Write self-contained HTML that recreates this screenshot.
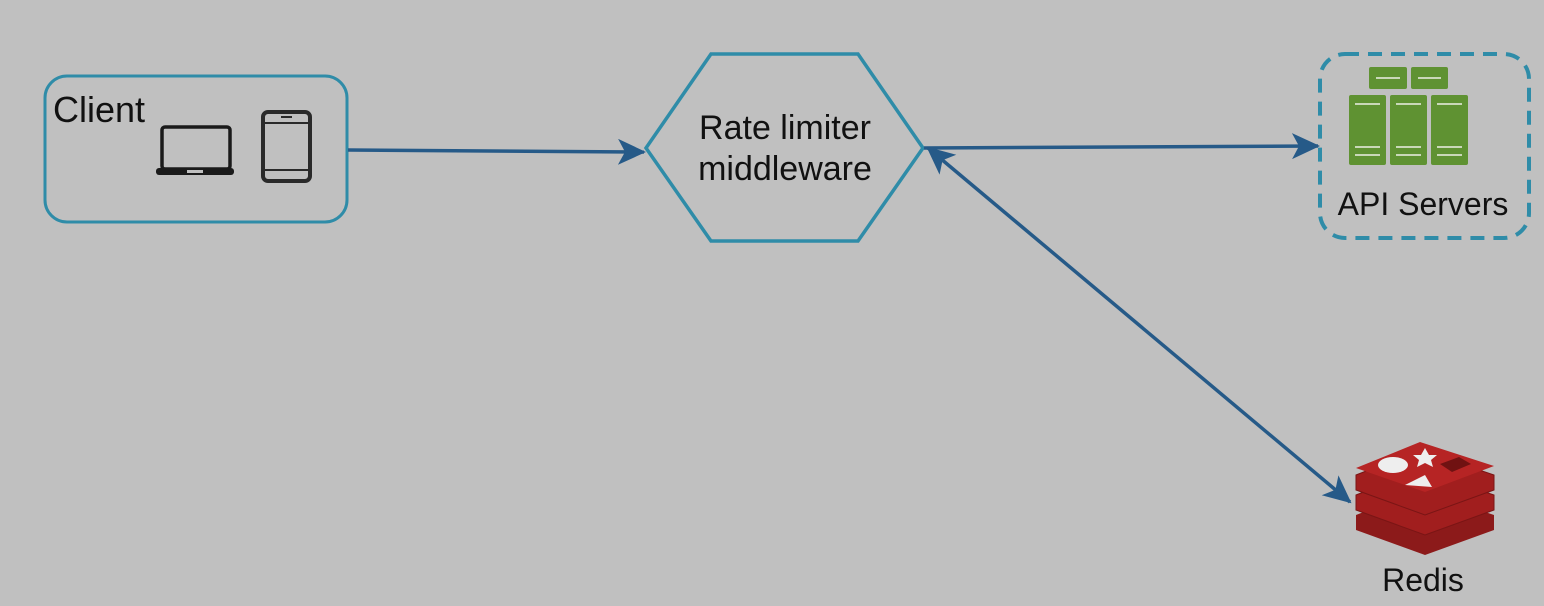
<!DOCTYPE html>
<html><head><style>body{margin:0;background:#c0c0c0}svg{display:block}</style></head><body>
<svg width="1544" height="606" viewBox="0 0 1544 606" xmlns="http://www.w3.org/2000/svg" font-family="Liberation Sans, sans-serif">
<rect width="1544" height="606" fill="#c0c0c0"/>
<defs>
<marker id="ah" markerWidth="28" markerHeight="26" refX="26" refY="13" orient="auto-start-reverse" markerUnits="userSpaceOnUse" viewBox="0 0 28 26">
<path d="M0,0 L28,13 L0,26 L7,13 Z" fill="#265a88"/></marker>
</defs>
<!-- Client -->
<rect x="45" y="76" width="302" height="146" rx="22" fill="none" stroke="#2f8ca8" stroke-width="3"/>
<text x="53" y="122" font-size="36" fill="#111">Client</text>
<rect x="162" y="127" width="68" height="42" rx="3" fill="none" stroke="#1a1a1a" stroke-width="3.5"/>
<rect x="156" y="168" width="78" height="7" rx="3" fill="#1a1a1a"/>
<rect x="187" y="170" width="16" height="3" fill="#c0c0c0"/>
<rect x="263" y="112" width="47" height="69" rx="5" fill="none" stroke="#2a2a2a" stroke-width="4"/>
<line x1="264" y1="123" x2="309" y2="123" stroke="#2a2a2a" stroke-width="2"/>
<line x1="264" y1="170" x2="309" y2="170" stroke="#2a2a2a" stroke-width="2"/>
<line x1="281" y1="117" x2="292" y2="117" stroke="#2a2a2a" stroke-width="2"/>
<!-- Hexagon -->
<polygon points="646,148 711,54 858,54 923,148 858,241 711,241" fill="none" stroke="#2f8ca8" stroke-width="3.5"/>
<text x="785" y="139" font-size="34" text-anchor="middle" fill="#111">Rate limiter</text>
<text x="785" y="180" font-size="34" text-anchor="middle" fill="#111">middleware</text>
<!-- arrows -->
<g stroke="#265a88" stroke-width="3.5" fill="none">
<line x1="348" y1="150" x2="644" y2="152" marker-end="url(#ah)"/>
<line x1="924" y1="148" x2="1318" y2="146" marker-end="url(#ah)"/>
<line x1="928" y1="148" x2="1350" y2="502" marker-start="url(#ah)" marker-end="url(#ah)"/>
</g>
<!-- API servers -->
<rect x="1320" y="54" width="209" height="184" rx="25" fill="none" stroke="#2f8ca8" stroke-width="4" stroke-dasharray="14,9"/>
<g fill="#5f9232">
<rect x="1369" y="67" width="38" height="22" rx="2"/><rect x="1411" y="67" width="37" height="22" rx="2"/>
<rect x="1349" y="95" width="37" height="70" rx="2"/><rect x="1390" y="95" width="37" height="70" rx="2"/><rect x="1431" y="95" width="37" height="70" rx="2"/>
</g>
<g stroke="#c9d8b8" stroke-width="2">
<line x1="1376" y1="78" x2="1400" y2="78"/><line x1="1418" y1="78" x2="1441" y2="78"/>
<line x1="1355" y1="104" x2="1380" y2="104"/><line x1="1396" y1="104" x2="1421" y2="104"/><line x1="1437" y1="104" x2="1462" y2="104"/>
<line x1="1355" y1="147" x2="1380" y2="147"/><line x1="1396" y1="147" x2="1421" y2="147"/><line x1="1437" y1="147" x2="1462" y2="147"/>
<line x1="1355" y1="155" x2="1380" y2="155"/><line x1="1396" y1="155" x2="1421" y2="155"/><line x1="1437" y1="155" x2="1462" y2="155"/>
</g>
<text x="1423" y="215" font-size="32" text-anchor="middle" fill="#111">API Servers</text>
<!-- Redis -->
<g>
<path d="M1356,515 L1420,490 L1494,515 L1494,530 L1425,555 L1356,530 Z" fill="#8c1a1a"/>
<path d="M1356,495 L1420,470 L1494,495 L1494,510 L1425,535 L1356,510 Z" fill="#a11e1e" stroke="#7a1515" stroke-width="1"/>
<path d="M1356,475 L1420,450 L1494,475 L1494,490 L1425,515 L1356,490 Z" fill="#a11e1e" stroke="#7a1515" stroke-width="1"/>
<path d="M1356,468 L1420,442 L1494,466 L1425,492 Z" fill="#b62424"/>
<ellipse cx="1393" cy="465" rx="15" ry="8" fill="#eee"/>
<polygon points="1425,448 1429,455 1437,455 1431,460 1433,467 1425,463 1417,467 1419,460 1413,455 1421,455" fill="#eee"/>
<polygon points="1405,485 1432,487 1425,475" fill="#eee"/>
<polygon points="1440,464 1459,457 1471,464 1452,472" fill="#701212"/>
</g>
<text x="1423" y="591" font-size="32" text-anchor="middle" fill="#111">Redis</text>
</svg>
</body></html>
